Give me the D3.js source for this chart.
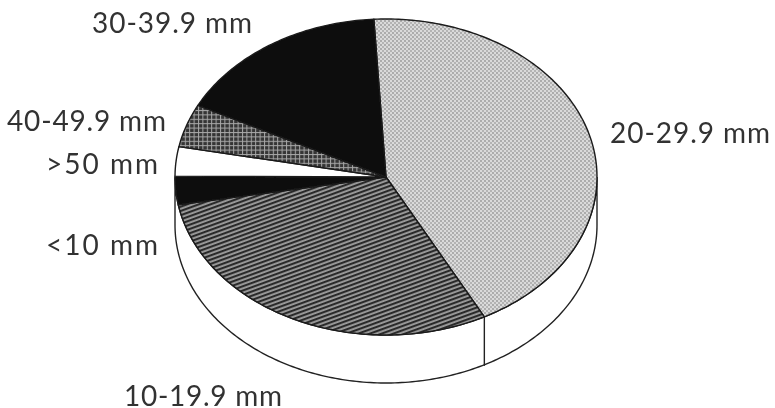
<!DOCTYPE html>
<html>
<head>
  <meta charset="utf-8">
  <title>Pie chart by size class</title>
  <script src="https://d3js.org/d3.v7.min.js"></script>
  <style>
    html, body { margin: 0; padding: 0; background: #fff; overflow: hidden; }
    svg { display: block; }
    .label { font-family: Lato, sans-serif; font-weight: 400; font-size: 28px; fill: #333; }
    .slice { stroke: #1a1a1a; stroke-width: 1.4px; stroke-linejoin: round; }
  </style>
</head>
<body>
  <div id="chart"></div>
  <script>
    // values (percent), clockwise from the top
    const categories = ["20-29.9 mm", "10-19.9 mm", "<10 mm", ">50 mm", "40-49.9 mm", "30-39.9 mm"];
    const shares = [43.2, 29.9, 2.9, 3.0, 4.4, 16.6];
    const fills = ["url(#dots)", "url(#hatch)", "#0c0c0c", "#ffffff", "url(#grid)", "#0c0c0c"];

    const width = 775, height = 408;
    const cx = 386, cy = 177, rx = 211, ry = 158, depth = 48;
    const startAngle = -3.3 * Math.PI / 180;

    // label anchors and the width each label spans, same order as categories
    const labelSpots = [[610, 143, 160], [124, 406, 158], [46, 255, 112], [46, 174, 112], [7, 131, 159], [92, 33, 160]];

    const svg = d3.select("#chart").append("svg")
      .attr("width", width)
      .attr("height", height);

    const defs = svg.append("defs");

    // the scan is a bit soft
    defs.append("filter").attr("id", "soft")
      .append("feGaussianBlur").attr("stdDeviation", 0.4);

    // light stipple
    const dots = defs.append("pattern").attr("id", "dots")
      .attr("patternUnits", "userSpaceOnUse").attr("width", 4).attr("height", 4);
    dots.append("rect").attr("width", 4).attr("height", 4).attr("fill", "#dadada");
    dots.append("circle").attr("cx", 1).attr("cy", 1).attr("r", 0.9).attr("fill", "#969696");
    dots.append("circle").attr("cx", 3).attr("cy", 3).attr("r", 0.9).attr("fill", "#a2a2a2");

    // dense diagonal lines
    const hatch = defs.append("pattern").attr("id", "hatch")
      .attr("patternUnits", "userSpaceOnUse").attr("width", 4).attr("height", 4)
      .attr("patternTransform", "rotate(-20)");
    hatch.append("rect").attr("width", 4).attr("height", 4).attr("fill", "#2a2a2a");
    hatch.append("rect").attr("y", 1.4).attr("width", 4).attr("height", 1.3).attr("fill", "#d0d0d0");

    // dark cross grid
    const grid = defs.append("pattern").attr("id", "grid")
      .attr("patternUnits", "userSpaceOnUse").attr("width", 4.4).attr("height", 4.4);
    grid.append("rect").attr("width", 4.4).attr("height", 4.4).attr("fill", "#343434");
    grid.append("rect").attr("width", 4.4).attr("height", 1).attr("fill", "#a8a8a8");
    grid.append("rect").attr("width", 1).attr("height", 4.4).attr("fill", "#a8a8a8");

    const x = d3.scaleLinear().domain([-1, 1]).range([cx - rx, cx + rx]);
    const y = d3.scaleLinear().domain([-1, 1]).range([cy - ry, cy + ry]);

    const pie = d3.pie().sort(null)
      .startAngle(startAngle)
      .endAngle(startAngle + 2 * Math.PI);
    const arcs = pie(shares);

    const line = d3.line().x(d => d[0]).y(d => d[1]);

    // point on the rim of the squashed circle, a measured clockwise from the top
    const rim = (a, dy = 0) => [x(Math.sin(a)), y(-Math.cos(a)) + dy];
    const rimPoints = (a0, a1, dy = 0) => {
      const n = Math.max(2, Math.ceil((a1 - a0) * 60));
      return d3.range(n + 1).map(i => rim(a0 + (a1 - a0) * i / n, dy));
    };

    const chart = svg.append("g").attr("filter", "url(#soft)");

    // side wall, only the front half of the rim shows
    const wallFrom = Math.PI / 2, wallTo = 3 * Math.PI / 2;
    chart.append("path")
      .attr("d", line([...rimPoints(wallFrom, wallTo, 0), ...rimPoints(wallFrom, wallTo, depth).reverse()]) + "Z")
      .attr("fill", "#fff")
      .attr("stroke", "#222")
      .attr("stroke-width", 1.4);

    // seam below the boundary of the first two slices
    const seam = rim(arcs[0].endAngle);
    chart.append("line")
      .attr("x1", seam[0]).attr("y1", seam[1])
      .attr("x2", seam[0]).attr("y2", seam[1] + depth + 1)
      .attr("stroke", "#222")
      .attr("stroke-width", 1.4);

    chart.selectAll(".slice")
      .data(arcs)
      .enter().append("path")
      .attr("class", "slice")
      .attr("fill", (d, i) => fills[i])
      .attr("d", d => line([[cx, cy], ...rimPoints(d.startAngle, d.endAngle)]) + "Z");

    chart.selectAll(".label")
      .data(categories)
      .enter().append("text")
      .attr("class", "label")
      .attr("x", (d, i) => labelSpots[i][0])
      .attr("y", (d, i) => labelSpots[i][1])
      .attr("textLength", (d, i) => labelSpots[i][2])
      .text(d => d);
  </script>
</body>
</html>
